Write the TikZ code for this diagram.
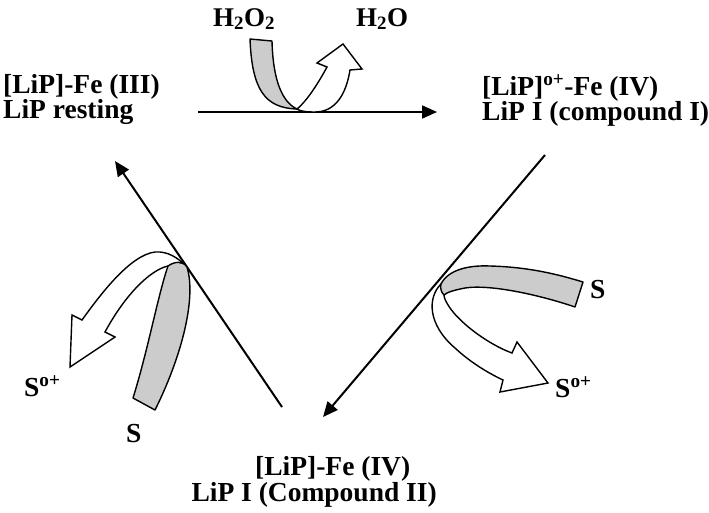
\documentclass[tikz,border=0pt]{standalone}
\usepackage{fontspec}
\setmainfont{Liberation Serif}
\usetikzlibrary{arrows.meta}
\begin{document}
\begin{tikzpicture}[x=1pt,y=-1pt,
  lbl/.style={inner sep=0pt,font=\fontsize{27.5}{27.5}\selectfont\bfseries},
  small/.style={inner sep=0pt,font=\fontsize{27}{27}\selectfont\bfseries},
  rxn/.style={line width=2pt,-{Triangle[length=15pt,width=13pt]}},
  band/.style={line width=1.4pt,fill=black!20,line join=round},
  ribbon/.style={line width=1.4pt,fill=white,line join=miter}]
\useasboundingbox (0,0) rectangle (709,512);
% texts
\node[lbl,anchor=base west] (r1) at (3,93) {[LiP]-Fe (III)};
\node[lbl,anchor=base west] (r2) at (3,118) {LiP resting};
\node[lbl,anchor=base west] (c1) at (482,95) {[LiP]\textsuperscript{o+}-Fe (IV)};
\node[lbl,anchor=base west] (c2) at (482,120) {LiP I (compound I)};
\node[lbl,anchor=base west] (d1) at (255,475) {[LiP]-Fe (IV)};
\node[lbl,anchor=base east] (d2) at (437,501) {LiP I (Compound II)};
\node[small,anchor=base west] (hp) at (213,26) {H\textsubscript{2}O\textsubscript{2}};
\node[small,anchor=base west] (hw) at (356,26) {H\textsubscript{2}O};
\node[lbl,anchor=base west] (s1) at (590,298) {S};
\node[lbl,anchor=base west] (s1p) at (555,397) {S\textsuperscript{o+}};
\node[lbl,anchor=base west] (s2p) at (24,396) {S\textsuperscript{o+}};
\node[lbl,anchor=base west] (s2) at (126,442) {S};
% connector end points
\coordinate (a1) at (198,112);
\coordinate (a2) at (437,112);
\coordinate (b1) at (545,155);
\coordinate (b2) at (323,417);
\coordinate (e1) at (282,407);
\coordinate (e2) at (115,161);
\draw[rxn] (a1) -- (a2);
\draw[rxn] (b1) -- (b2);
\draw[rxn] (e1) -- (e2);
% top ribbon
\draw[ribbon] (297,109) .. controls (308,100) and (320,80) .. (327,67) -- (317,63) -- (343,44) -- (362,69) -- (350,70)
  .. controls (346,95) and (335,112) .. (315,112) .. controls (305,112) and (300,111) .. cycle;
\draw[band] (250,39) -- (272,41) .. controls (273,80) and (282,102) .. (297,109)
  .. controls (265,108) and (252,90) .. cycle;
% left ribbon
\draw[ribbon] (168,266) .. controls (150,270) and (125,295) .. (105,332) -- (115,337) -- (70,367) -- (72,315) -- (82,320)
  .. controls (100,295) and (130,255) .. (155,252) .. controls (168,251) and (178,258) .. (186,266) -- cycle;
\draw[band] (168,266) .. controls (175,261) and (183,261) .. (187,267)
  .. controls (197,300) and (180,360) .. (155,410) -- (133,398)
  .. controls (148,350) and (158,295) .. cycle;
% right ribbon
\draw[ribbon] (441,284) .. controls (427,298) and (428,325) .. (455,348) .. controls (470,362) and (488,373) .. (503,380)
  -- (500,392) -- (548,383) -- (517,342) -- (512,353)
  .. controls (490,345) and (462,325) .. (450,308) .. controls (446,302) and (444,298) .. (444,295) -- cycle;
\draw[band] (441,284) .. controls (448,270) and (468,265) .. (490,266) .. controls (530,267) and (560,275) .. (583,282)
  -- (575,307) .. controls (540,295) and (490,284) .. (465,288) .. controls (455,290) and (447,292) .. (444,295)
  .. controls (441,292) and (440,288) .. cycle;
\end{tikzpicture}
\end{document}
